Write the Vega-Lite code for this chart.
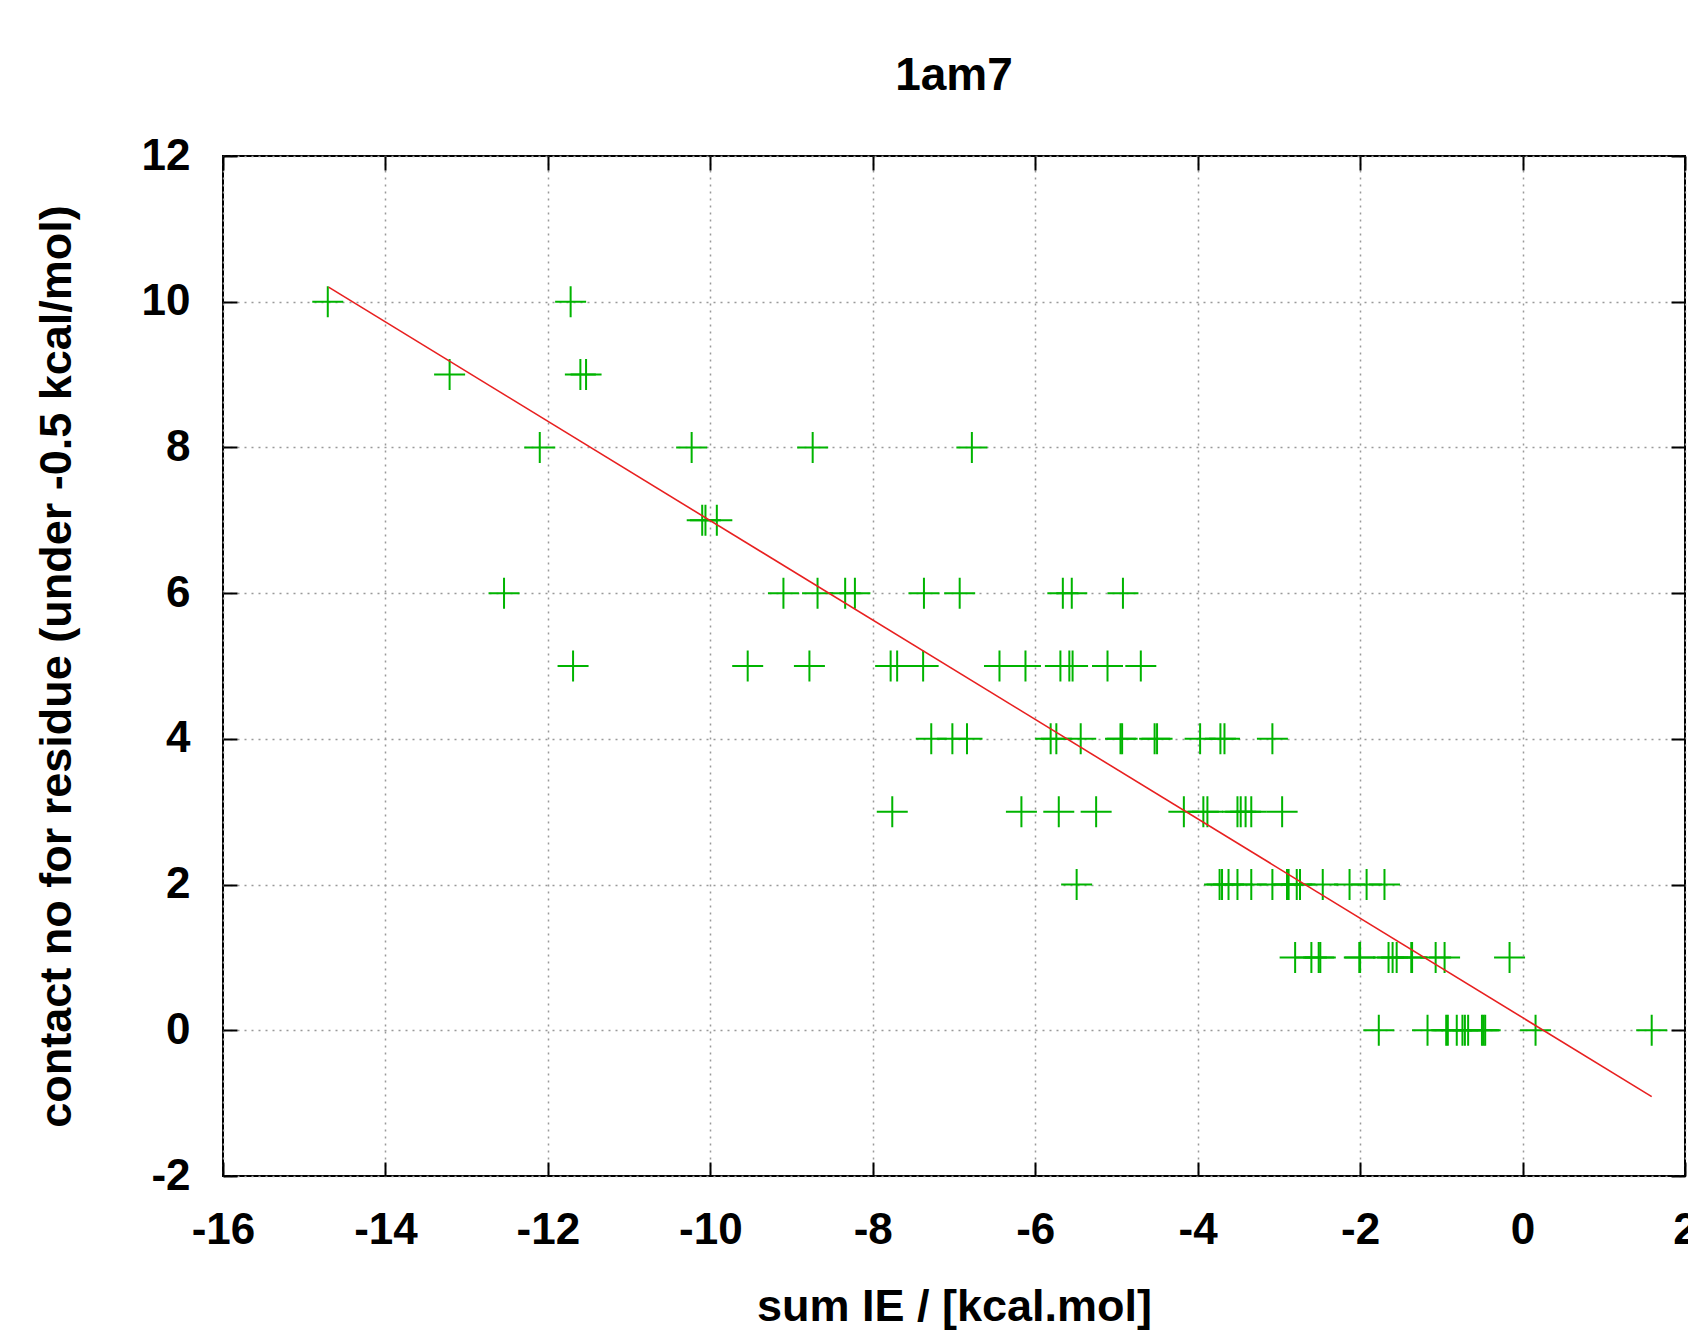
{
  "$schema": "https://vega.github.io/schema/vega-lite/v6.json",
  "width": 1462,
  "height": 1020,
  "autosize": {"type": "none"},
  "padding": {"left": 223, "top": 156, "right": 3, "bottom": 155},
  "background": "white",
  "title": {"text": "1am7", "fontSize": 46, "font": "Liberation Sans", "fontWeight": "bold", "color": "black", "anchor": "middle", "baseline": "alphabetic", "offset": -2},
  "datasets": {
    "points": [
      {"ie": -14.71, "contacts": 10}, {"ie": -11.72, "contacts": 10},
      {"ie": -13.21, "contacts": 9}, {"ie": -11.60, "contacts": 9}, {"ie": -11.53, "contacts": 9},
      {"ie": -12.10, "contacts": 8}, {"ie": -10.23, "contacts": 8}, {"ie": -8.74, "contacts": 8}, {"ie": -6.78, "contacts": 8},
      {"ie": -10.10, "contacts": 7}, {"ie": -10.06, "contacts": 7}, {"ie": -9.92, "contacts": 7},
      {"ie": -12.54, "contacts": 6}, {"ie": -9.10, "contacts": 6}, {"ie": -8.68, "contacts": 6}, {"ie": -8.34, "contacts": 6}, {"ie": -8.22, "contacts": 6}, {"ie": -7.37, "contacts": 6}, {"ie": -6.93, "contacts": 6}, {"ie": -5.66, "contacts": 6}, {"ie": -5.55, "contacts": 6}, {"ie": -4.92, "contacts": 6},
      {"ie": -11.69, "contacts": 5}, {"ie": -9.54, "contacts": 5}, {"ie": -8.78, "contacts": 5}, {"ie": -7.78, "contacts": 5}, {"ie": -7.70, "contacts": 5}, {"ie": -7.38, "contacts": 5}, {"ie": -6.44, "contacts": 5}, {"ie": -6.12, "contacts": 5}, {"ie": -5.69, "contacts": 5}, {"ie": -5.58, "contacts": 5}, {"ie": -5.54, "contacts": 5}, {"ie": -5.11, "contacts": 5}, {"ie": -4.70, "contacts": 5},
      {"ie": -7.28, "contacts": 4}, {"ie": -7.02, "contacts": 4}, {"ie": -6.84, "contacts": 4}, {"ie": -5.81, "contacts": 4}, {"ie": -5.74, "contacts": 4}, {"ie": -5.44, "contacts": 4}, {"ie": -4.95, "contacts": 4}, {"ie": -4.93, "contacts": 4}, {"ie": -4.53, "contacts": 4}, {"ie": -4.50, "contacts": 4}, {"ie": -3.97, "contacts": 4}, {"ie": -3.72, "contacts": 4}, {"ie": -3.67, "contacts": 4}, {"ie": -3.08, "contacts": 4},
      {"ie": -7.76, "contacts": 3}, {"ie": -6.17, "contacts": 3}, {"ie": -5.71, "contacts": 3}, {"ie": -5.25, "contacts": 3}, {"ie": -4.17, "contacts": 3}, {"ie": -3.93, "contacts": 3}, {"ie": -3.88, "contacts": 3}, {"ie": -3.51, "contacts": 3}, {"ie": -3.47, "contacts": 3}, {"ie": -3.41, "contacts": 3}, {"ie": -3.34, "contacts": 3}, {"ie": -2.96, "contacts": 3},
      {"ie": -5.49, "contacts": 2}, {"ie": -3.73, "contacts": 2}, {"ie": -3.70, "contacts": 2}, {"ie": -3.62, "contacts": 2}, {"ie": -3.51, "contacts": 2}, {"ie": -3.34, "contacts": 2}, {"ie": -3.08, "contacts": 2}, {"ie": -2.90, "contacts": 2}, {"ie": -2.88, "contacts": 2}, {"ie": -2.78, "contacts": 2}, {"ie": -2.74, "contacts": 2}, {"ie": -2.46, "contacts": 2}, {"ie": -2.13, "contacts": 2}, {"ie": -1.92, "contacts": 2}, {"ie": -1.70, "contacts": 2},
      {"ie": -2.80, "contacts": 1}, {"ie": -2.60, "contacts": 1}, {"ie": -2.51, "contacts": 1}, {"ie": -2.49, "contacts": 1}, {"ie": -2.01, "contacts": 1}, {"ie": -2.00, "contacts": 1}, {"ie": -1.65, "contacts": 1}, {"ie": -1.60, "contacts": 1}, {"ie": -1.55, "contacts": 1}, {"ie": -1.37, "contacts": 1}, {"ie": -1.36, "contacts": 1}, {"ie": -1.07, "contacts": 1}, {"ie": -0.96, "contacts": 1}, {"ie": -0.16, "contacts": 1},
      {"ie": -1.77, "contacts": 0}, {"ie": -1.17, "contacts": 0}, {"ie": -0.94, "contacts": 0}, {"ie": -0.92, "contacts": 0}, {"ie": -0.81, "contacts": 0}, {"ie": -0.74, "contacts": 0}, {"ie": -0.71, "contacts": 0}, {"ie": -0.67, "contacts": 0}, {"ie": -0.50, "contacts": 0}, {"ie": -0.48, "contacts": 0}, {"ie": -0.46, "contacts": 0}, {"ie": 0.16, "contacts": 0}, {"ie": 1.59, "contacts": 0}
    ],
    "fit": [
      {"ie": -14.70, "contacts": 10.20},
      {"ie": 1.59, "contacts": -0.91}
    ]
  },
  "layer": [
    {
      "data": {"name": "points"},
      "mark": {"type": "point", "shape": "M-1,0H1M0,-1V1", "size": 961, "filled": false, "stroke": "#00b400", "strokeWidth": 2, "opacity": 1},
      "encoding": {
        "x": {"field": "ie", "type": "quantitative", "scale": {"domain": [-16, 2], "nice": false, "zero": false},
          "axis": {"orient": "bottom", "title": "sum IE / [kcal.mol]", "values": [-16, -14, -12, -10, -8, -6, -4, -2, 0, 2], "labelExpr": "'' + datum.value", "grid": true, "tickSize": -14, "labelPadding": 46, "titlePadding": 32}},
        "y": {"field": "contacts", "type": "quantitative", "scale": {"domain": [-2, 12], "nice": false, "zero": false},
          "axis": {"orient": "left", "title": "contact no for residue (under -0.5 kcal/mol)", "values": [-2, 0, 2, 4, 6, 8, 10, 12], "labelExpr": "'' + datum.value", "grid": true, "tickSize": -14, "labelPadding": 47, "titlePadding": 62}}
      }
    },
    {
      "data": {"name": "fit"},
      "mark": {"type": "line", "stroke": "#e82020", "strokeWidth": 1.6},
      "encoding": {
        "x": {"field": "ie", "type": "quantitative",
          "axis": {"orient": "top", "title": null, "labels": false, "values": [-16, -14, -12, -10, -8, -6, -4, -2, 0, 2], "grid": false, "tickSize": -14}},
        "y": {"field": "contacts", "type": "quantitative",
          "axis": {"orient": "right", "title": null, "labels": false, "values": [-2, 0, 2, 4, 6, 8, 10, 12], "grid": false, "tickSize": -14}}
      }
    }
  ],
  "resolve": {"axis": {"x": "independent", "y": "independent"}},
  "config": {
    "view": {"stroke": "black", "strokeWidth": 2},
    "axis": {
      "domain": false,
      "tickColor": "black",
      "tickWidth": 2,
      "labelFont": "Liberation Sans",
      "labelFontSize": 44,
      "labelFontWeight": "bold",
      "labelColor": "black",
      "labelFlush": false,
      "labelOverlap": false,
      "labelBound": false,
      "titleFont": "Liberation Sans",
      "titleFontSize": 45,
      "titleFontWeight": "bold",
      "titleColor": "black",
      "gridColor": "#999999",
      "gridDash": [2, 5],
      "gridWidth": 1.5,
      "gridOpacity": 1
    }
  }
}
